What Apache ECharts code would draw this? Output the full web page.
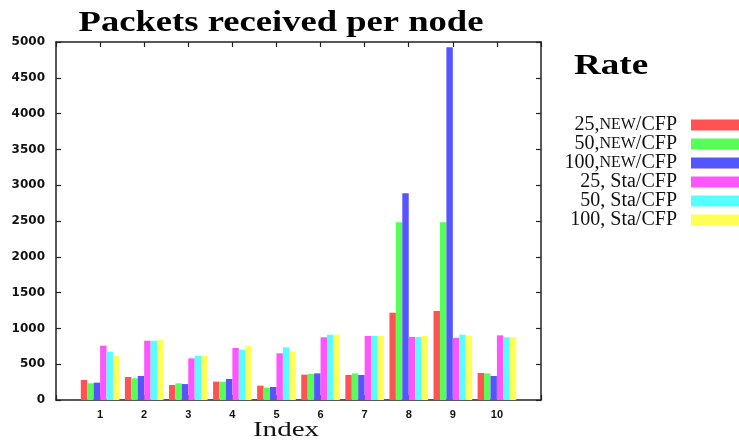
<!DOCTYPE html>
<html>
<head>
<meta charset="utf-8">
<script src="https://cdn.jsdelivr.net/npm/echarts@6/dist/echarts.min.js"></script>
<style>
  html, body { margin: 0; padding: 0; background: #fff; }
  #chart { width: 739px; height: 443px; }
</style>
</head>
<body>
<div id="chart"></div>
<script>
// Node indices along the x axis
const nodeIndex = ['1', '2', '3', '4', '5', '6', '7', '8', '9', '10'];

// Packets received per node, one array per rate / scheme
const rate25New  = [279, 321, 209, 256, 200, 354, 349, 1219, 1243, 377];
const rate50New  = [233, 303, 233, 256, 172, 363, 372, 2481, 2481, 372];
const rate100New = [242, 335, 223, 293, 182, 372, 349, 2887, 4926, 335];
const rate25Sta  = [759, 828, 582, 726, 652, 876, 894, 880, 866, 903];
const rate50Sta  = [675, 828, 619, 703, 736, 912, 894, 880, 912, 876];
const rate100Sta = [619, 842, 619, 759, 675, 912, 894, 894, 898, 880];

const seriesNames = ['25,NEW/CFP', '50,NEW/CFP', '100,NEW/CFP', '25, Sta/CFP', '50, Sta/CFP', '100, Sta/CFP'];
const seriesColors = ['#ff5252', '#55ff55', '#5555ff', '#ff55ff', '#55ffff', '#ffff55'];
const seriesValues = [rate25New, rate50New, rate100New, rate25Sta, rate50Sta, rate100Sta];

// y axis ticks
const yMin = 0, yMax = 5000, yStep = 500;

// Pad the axis with an empty slot on each side so node 1 and node 10 sit one step in
const axisCategories = [''].concat(nodeIndex, ['']);
const padded = arr => [null].concat(arr, [null]);

const serif = '"Liberation Serif", "Times New Roman", serif';

const chart = echarts.init(document.getElementById('chart'), null, { renderer: 'canvas' });

const frameLine = { show: true, onZero: false, lineStyle: { color: '#222', width: 1.5 } };
const innerTick = { show: true, inside: true, length: 5, lineStyle: { color: '#222', width: 1.2 } };

chart.setOption({
  backgroundColor: '#ffffff',
  animation: false,
  grid: { left: 56, right: 198, top: 42, bottom: 43, containLabel: false },
  xAxis: [
    {
      type: 'category',
      data: axisCategories,
      boundaryGap: false,
      position: 'bottom',
      axisLine: frameLine,
      axisTick: Object.assign({ interval: 0 }, innerTick),
      axisLabel: {
        interval: 0, margin: 9, color: '#111',
        fontFamily: '"Liberation Sans", Arial, sans-serif', fontWeight: 'bold', fontSize: 11
      },
      splitLine: { show: false }
    },
    {
      type: 'category',
      data: axisCategories,
      boundaryGap: false,
      position: 'top',
      axisLine: frameLine,
      axisTick: Object.assign({ interval: 0 }, innerTick),
      axisLabel: { show: false },
      splitLine: { show: false }
    }
  ],
  yAxis: [
    {
      type: 'value',
      min: yMin, max: yMax, interval: yStep,
      position: 'left',
      axisLine: frameLine,
      axisTick: innerTick,
      axisLabel: {
        margin: 11, color: '#111',
        formatter: v => String(v),
        fontFamily: '"DejaVu Sans", sans-serif', fontWeight: 'bold', fontSize: 12
      },
      splitLine: { show: false }
    },
    {
      type: 'value',
      min: yMin, max: yMax, interval: yStep,
      position: 'right',
      axisLine: frameLine,
      axisTick: innerTick,
      axisLabel: { show: false },
      splitLine: { show: false }
    }
  ],
  legend: {
    orient: 'vertical',
    right: 0,
    top: 115,
    padding: 0,
    align: 'right',
    icon: 'rect',
    itemWidth: 48,
    itemHeight: 11,
    itemGap: -1,
    selectedMode: false,
    data: seriesNames,
    formatter: name => name.replace('NEW', '{sc|NEW}'),
    textStyle: {
      fontFamily: serif, fontSize: 20, lineHeight: 18, color: '#111',
      padding: [0, 9, 0, 0],
      rich: { sc: { fontFamily: serif, fontSize: 16, lineHeight: 18, color: '#111' } }
    }
  },
  graphic: [
    {
      type: 'text', x: 281, y: 23, scaleX: 1.22,
      style: {
        text: 'Packets received per node', font: 'bold 30px ' + serif,
        fill: '#000', align: 'center', verticalAlign: 'middle'
      }
    },
    {
      type: 'text', x: 611, y: 67, scaleX: 1.28,
      style: {
        text: 'Rate', font: 'bold 29px ' + serif,
        fill: '#000', align: 'center', verticalAlign: 'middle'
      }
    },
    {
      type: 'text', x: 286, y: 430, scaleX: 1.32,
      style: {
        text: 'Index', font: '22px ' + serif,
        fill: '#111', align: 'center', verticalAlign: 'middle'
      }
    }
  ],
  series: seriesNames.map((name, i) => ({
    name: name,
    type: 'bar',
    xAxisIndex: 0,
    yAxisIndex: 0,
    data: padded(seriesValues[i]),
    barGap: '0%',
    barCategoryGap: '12.5%',
    itemStyle: { color: seriesColors[i] },
    emphasis: { disabled: true }
  }))
});
</script>
</body>
</html>
